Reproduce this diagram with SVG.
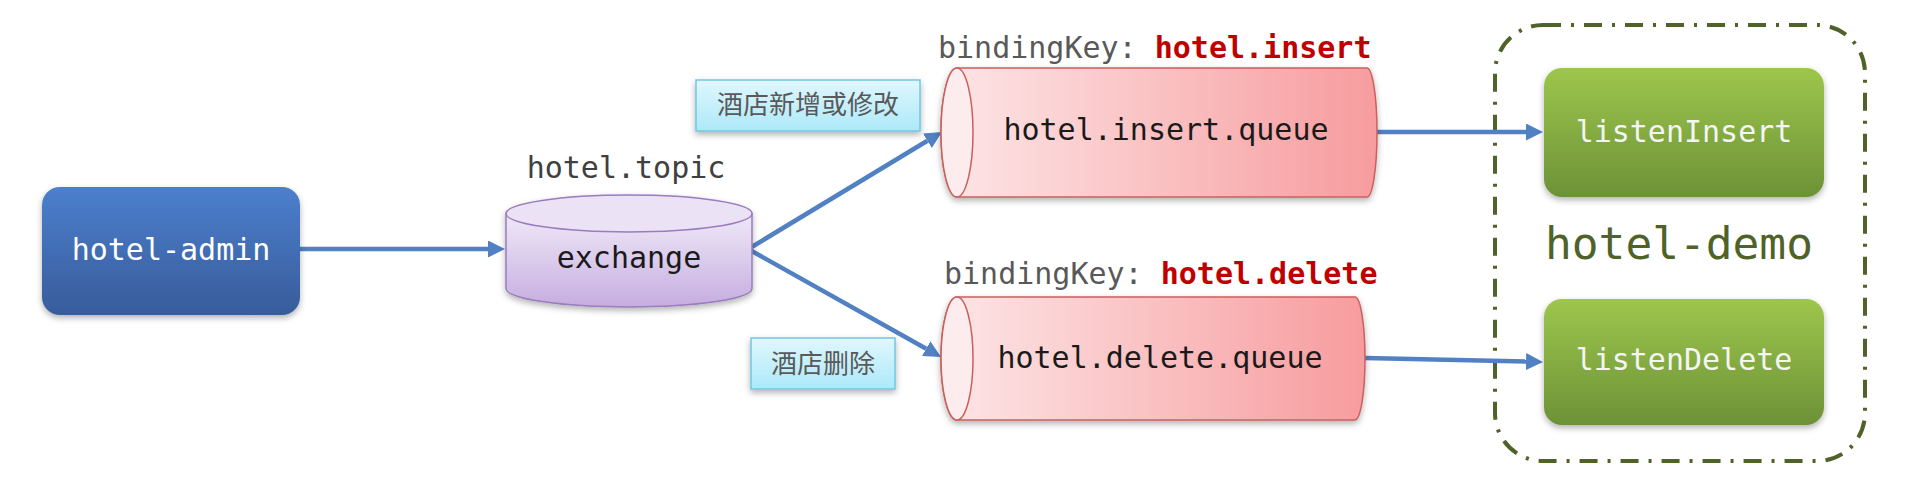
<svg xmlns="http://www.w3.org/2000/svg" width="1909" height="477" viewBox="0 0 1909 477">
<defs>
<linearGradient id="gBlue" x1="0" y1="0" x2="0" y2="1"><stop offset="0" stop-color="#4c7fcd"/><stop offset="1" stop-color="#385c9b"/></linearGradient>
<linearGradient id="gPurple" x1="0" y1="0" x2="0" y2="1"><stop offset="0" stop-color="#efe9f7"/><stop offset="1" stop-color="#c6ade0"/></linearGradient>
<linearGradient id="gRed" x1="0" y1="0" x2="1" y2="0"><stop offset="0" stop-color="#fde6e7"/><stop offset="1" stop-color="#f79c9e"/></linearGradient>
<linearGradient id="gGreen" x1="0" y1="0" x2="0" y2="1"><stop offset="0" stop-color="#9dc64c"/><stop offset="1" stop-color="#6c9237"/></linearGradient>
<linearGradient id="gCyan" x1="0" y1="0" x2="0" y2="1"><stop offset="0" stop-color="#e0f7fd"/><stop offset="1" stop-color="#ace9f9"/></linearGradient>
<filter id="sh" x="-10%" y="-10%" width="120%" height="130%"><feDropShadow dx="0" dy="3" stdDeviation="3" flood-color="#000" flood-opacity="0.3"/></filter>
<marker id="ah" markerUnits="userSpaceOnUse" markerWidth="18" markerHeight="18" refX="0" refY="8.5" orient="auto"><path d="M0,0 L17,8.5 L0,17 Z" fill="#5181c3"/></marker>
<style>
.mono{font-family:"DejaVu Sans Mono","Liberation Mono",monospace;font-size:30px;}
.cn{font-family:"Noto Sans CJK SC",sans-serif;font-size:26px;fill:#595959;}
.conn{stroke:#5181c3;stroke-width:4.5;fill:none;marker-end:url(#ah);}
.qbody{fill:url(#gRed);stroke:#c9605d;stroke-width:1.5;}
.qend{fill:#fdeced;stroke:#c9605d;stroke-width:1.5;}
.green{fill:url(#gGreen);}
.lbl{fill:url(#gCyan);stroke:#72c7e0;stroke-width:1.5;}
</style>
</defs>
<rect width="1909" height="477" fill="#ffffff"/>

<g id="hotel-demo-group">
<rect x="1495" y="25" width="370" height="436" rx="48" fill="none" stroke="#4f6228" stroke-width="4" stroke-dasharray="18 10 3 10"/>
<text class="mono" x="1679" y="259" text-anchor="middle" style="font-size:44.5px" fill="#4f6228">hotel-demo</text>
</g>

<g id="connectors">
<line class="conn" x1="300" y1="249" x2="488" y2="249"/>
<line class="conn" x1="750" y1="248" x2="927.4" y2="140.8"/>
<line class="conn" x1="750" y1="250" x2="926.2" y2="348.7"/>
<line class="conn" x1="1377" y1="132" x2="1526" y2="132"/>
<line class="conn" x1="1365" y1="358" x2="1526" y2="361.6"/>
</g>

<g id="hotel-admin">
<rect x="42" y="187" width="258" height="128" rx="18" fill="url(#gBlue)" filter="url(#sh)"/>
<text class="mono" x="171" y="260" text-anchor="middle" fill="#ffffff">hotel-admin</text>
</g>

<g id="exchange">
<text class="mono" x="626" y="178" text-anchor="middle" fill="#404040">hotel.topic</text>
<g filter="url(#sh)">
<path d="M506,213.5 L506,288.5 A123,18.5 0 0 0 752,288.5 L752,213.5 Z" fill="url(#gPurple)" stroke="#9a7bbf" stroke-width="1.5"/>
<ellipse cx="629" cy="213.5" rx="123" ry="18.5" fill="#ebe3f5" stroke="#9a7bbf" stroke-width="1.5"/>
</g>
<text class="mono" x="629" y="268" text-anchor="middle" fill="#1a1a1a">exchange</text>
</g>

<g id="label-insert">
<rect class="lbl" x="696" y="80" width="224" height="51" filter="url(#sh)"/>
<text class="cn" x="808" y="114" text-anchor="middle">酒店新增或修改</text>
</g>

<g id="label-delete">
<rect class="lbl" x="751" y="338" width="144" height="51" filter="url(#sh)"/>
<text class="cn" x="823" y="373" text-anchor="middle">酒店删除</text>
</g>

<g id="insert-queue">
<text class="mono" x="938" y="58" fill="#595959">bindingKey: <tspan font-weight="bold" fill="#c00000">hotel.insert</tspan></text>
<g filter="url(#sh)">
<path class="qbody" d="M957,68 L1367,68 A10,64.5 0 0 1 1367,197 L957,197 A16,64.5 0 0 1 957,68 Z"/>
<ellipse class="qend" cx="957" cy="132.5" rx="16" ry="64.5"/>
</g>
<text class="mono" x="1166" y="140" text-anchor="middle" fill="#1a1a1a">hotel.insert.queue</text>
</g>

<g id="delete-queue">
<text class="mono" x="944" y="284" fill="#595959">bindingKey: <tspan font-weight="bold" fill="#c00000">hotel.delete</tspan></text>
<g filter="url(#sh)">
<path class="qbody" d="M957,297 L1355,297 A10,61.5 0 0 1 1355,420 L957,420 A16,61.5 0 0 1 957,297 Z"/>
<ellipse class="qend" cx="957" cy="358.5" rx="16" ry="61.5"/>
</g>
<text class="mono" x="1160" y="368" text-anchor="middle" fill="#1a1a1a">hotel.delete.queue</text>
</g>

<g id="listenInsert">
<rect class="green" x="1544" y="68" width="280" height="129" rx="18" filter="url(#sh)"/>
<text class="mono" x="1684" y="142" text-anchor="middle" fill="#f4f4f4">listenInsert</text>
</g>

<g id="listenDelete">
<rect class="green" x="1544" y="299" width="280" height="126" rx="18" filter="url(#sh)"/>
<text class="mono" x="1684" y="370" text-anchor="middle" fill="#f4f4f4">listenDelete</text>
</g>
</svg>
